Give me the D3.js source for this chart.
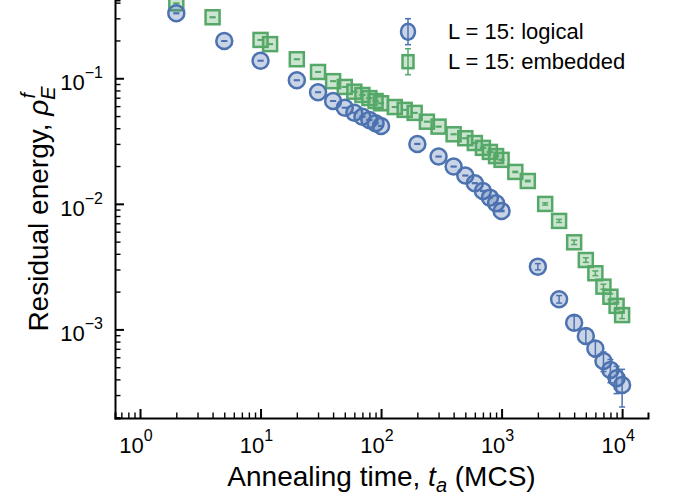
<!DOCTYPE html>
<html>
<head>
<meta charset="utf-8">
<script src="https://cdn.jsdelivr.net/npm/d3@7"></script>
<style>
  body { margin: 0; background: #fff; }
  text { font-family: "Liberation Sans", Arial, sans-serif; }
</style>
</head>
<body>
<div class="chart"></div>
<script>
// size setup
var width = 673;
var height = 500;

var blue = '#4c72b0';
var green = '#55a868';

// data
var tLogical = [2, 5, 10, 20, 30, 40, 50, 60, 70, 80, 90, 100,
                200, 300, 400, 500, 600, 700, 800, 900, 1000,
                2000, 3000, 4000, 5000, 6000, 7000, 8000, 9000, 10000];
var rhoLogical = [0.329, 0.198, 0.138, 0.0964, 0.0774, 0.0659, 0.0583, 0.0532, 0.0494, 0.0466, 0.0438, 0.0417,
                  0.0300, 0.0238, 0.0198, 0.0168, 0.0146, 0.01267, 0.0112, 0.0101, 0.00877,
                  0.00316, 0.00174, 0.00113, 0.000887, 0.000703, 0.000561, 0.000476, 0.000408, 0.000361];
var errLogical = [0.002, 0.001, 0.0008, 0.0005, 0.0004, 0.0003, 0.0003, 0.0003, 0.0003, 0.0003, 0.0003, 0.0002,
                  0.0002, 0.00015, 0.00012, 0.0001, 0.0001, 0.0001, 0.0001, 0.0001, 0.0001,
                  0.00018, 0.00012, 0.00015, 0.00012, 0.0001, 0.0001, 0.0001, 0.0001, 0.00012];

var tEmbedded = [2, 4, 10, 12, 20, 30, 40, 50, 60, 70, 80, 90, 100,
                 130, 157, 190, 240, 300, 400, 500, 600, 700, 800, 900, 1000,
                 1300, 1650, 2300, 3000, 4000, 5000, 6000, 7000, 8000, 9000, 10000];
var rhoEmbedded = [0.395, 0.306, 0.202, 0.187, 0.1417, 0.1122, 0.0948, 0.0853, 0.0782, 0.0736, 0.0695, 0.0659, 0.0632,
                   0.059, 0.056, 0.053, 0.0451, 0.0412, 0.0358, 0.0333, 0.0305, 0.0279, 0.0259, 0.0240, 0.0224,
                   0.01795, 0.0152, 0.00998, 0.00731, 0.00494, 0.00357, 0.0028, 0.00219, 0.00182, 0.00154, 0.0013];
var errEmbedded = [0.002, 0.002, 0.001, 0.001, 0.0008, 0.0006, 0.0005, 0.0004, 0.0004, 0.0004, 0.0003, 0.0003, 0.0003,
                   0.0003, 0.0003, 0.0003, 0.0003, 0.0003, 0.0002, 0.0002, 0.0002, 0.0002, 0.0002, 0.0002, 0.0002,
                   0.0002, 0.0002, 0.0002, 0.0002, 0.0002, 0.00015, 0.00012, 0.0001, 0.0001, 0.0001, 0.00008];

var xDecades = [1, 10, 100, 1000, 10000];
var xExponents = ["0", "1", "2", "3", "4"];
var yDecades = [0.1, 0.01, 0.001];
var yExponents = ["\u22121", "\u22122", "\u22123"];

var legendLabels = ["L = 15: logical", "L = 15: embedded"];

// plot box (names avoid window.top)
var plotLeft = 115, plotRight = 648, plotTop = 0, plotBottom = 418;

var xScale = d3.scaleLog()
               .domain([0.62, 16400])
               .range([plotLeft, plotRight]);
var yScale = d3.scaleLog()
               .domain([1.97e-4, 0.42])
               .range([plotBottom, plotTop]);

var svg = d3.select(".chart")
            .append("svg")
            .attr("width", width)
            .attr("height", height);

svg.append("defs").append("clipPath")
   .attr("id", "plot-clip")
   .append("rect")
   .attr("x", plotLeft).attr("y", plotTop)
   .attr("width", plotRight - plotLeft).attr("height", plotBottom - plotTop);

// axes with inward ticks
var xAxis = d3.axisTop(xScale)
              .tickSize(5.5)
              .tickFormat("");
var yAxis = d3.axisRight(yScale)
              .tickSize(5.5)
              .tickFormat("");

var gx = svg.append("g")
            .attr("id", "x-axis")
            .attr("transform", "translate(0," + plotBottom + ")")
            .call(xAxis);
var gy = svg.append("g")
            .attr("id", "y-axis")
            .attr("transform", "translate(" + plotLeft + ",0)")
            .call(yAxis);

[gx, gy].forEach(function(g) {
  g.select(".domain").attr("stroke", "#000").attr("stroke-width", 2);
  g.selectAll(".tick line").attr("stroke", "#000").attr("stroke-width", 1.4);
});

// longer major ticks
gx.selectAll(".tick line")
  .filter(d => xDecades.indexOf(d) >= 0)
  .attr("y2", -9).attr("stroke-width", 2);
gy.selectAll(".tick line")
  .filter(d => yDecades.some(v => Math.abs(v - d) / v < 1e-6))
  .attr("x2", 9).attr("stroke-width", 2);

// tick labels as 10^n
xDecades.forEach(function(v, i) {
  var t = svg.append("text")
             .attr("x", xScale(v) - 4)
             .attr("y", plotBottom + 35)
             .attr("text-anchor", "middle")
             .style("font-size", "22px");
  t.append("tspan").text("10");
  t.append("tspan").attr("dy", -12).style("font-size", "16px").text(xExponents[i]);
});
yDecades.forEach(function(v, i) {
  var t = svg.append("text")
             .attr("x", plotLeft - 12)
             .attr("y", yScale(v) + 12)
             .attr("text-anchor", "end")
             .style("font-size", "22px");
  t.append("tspan").text("10");
  t.append("tspan").attr("dy", -12).style("font-size", "16px").text(yExponents[i]);
});

// axis labels
var xl = svg.append("text")
            .attr("x", (plotLeft + plotRight) / 2)
            .attr("y", 486)
            .attr("text-anchor", "middle")
            .style("font-size", "28px");
xl.append("tspan").text("Annealing time, ");
xl.append("tspan").style("font-style", "italic").text("t");
xl.append("tspan").attr("dy", 6).style("font-size", "20px").style("font-style", "italic").text("a");
xl.append("tspan").attr("dy", -6).text(" (MCS)");

var yl = svg.append("text")
            .attr("transform", "translate(48," + ((plotTop + plotBottom) / 2) + ") rotate(-90)")
            .attr("text-anchor", "middle")
            .style("font-size", "28px");
yl.append("tspan").text("Residual energy, ");
yl.append("tspan").style("font-style", "italic").text("\u03c1");
yl.append("tspan").attr("dy", 7).style("font-size", "20px").style("font-style", "italic").text("E");
yl.append("tspan").attr("dy", -20).attr("dx", -12).style("font-size", "20px").style("font-style", "italic").text("f");

// error bars and markers
function drawSeries(ts, vals, errs, color, shape) {
  var g = svg.append("g").attr("clip-path", "url(#plot-clip)");
  var pts = ts.map((t, i) => ({t: t, v: vals[i], e: errs[i]}));

  var marks = g.selectAll(".mark")
               .data(pts)
               .enter();
  if (shape === "circle") {
    marks.append("circle")
         .attr("cx", d => xScale(d.t))
         .attr("cy", d => yScale(d.v))
         .attr("r", 8)
         .attr("fill", color)
         .attr("fill-opacity", 0.3)
         .attr("stroke", color)
         .attr("stroke-width", 2.5);
  } else {
    marks.append("rect")
         .attr("x", d => xScale(d.t) - 7)
         .attr("y", d => yScale(d.v) - 7)
         .attr("width", 14)
         .attr("height", 14)
         .attr("fill", color)
         .attr("fill-opacity", 0.3)
         .attr("stroke", color)
         .attr("stroke-width", 2.5);
  }

  var bars = g.selectAll(".bar")
              .data(pts)
              .enter()
              .append("g")
              .attr("stroke", color)
              .attr("stroke-width", 1.5);
  bars.append("line")
      .attr("x1", d => xScale(d.t)).attr("x2", d => xScale(d.t))
      .attr("y1", d => yScale(d.v + d.e)).attr("y2", d => yScale(d.v - d.e));
  bars.append("line")
      .attr("x1", d => xScale(d.t) - 3).attr("x2", d => xScale(d.t) + 3)
      .attr("y1", d => yScale(d.v + d.e)).attr("y2", d => yScale(d.v + d.e));
  bars.append("line")
      .attr("x1", d => xScale(d.t) - 3).attr("x2", d => xScale(d.t) + 3)
      .attr("y1", d => yScale(d.v - d.e)).attr("y2", d => yScale(d.v - d.e));
}

drawSeries(tEmbedded, rhoEmbedded, errEmbedded, green, "square");
drawSeries(tLogical, rhoLogical, errLogical, blue, "circle");

// legend
var legendY = [31.7, 61.7];
var legendColors = [blue, green];
legendLabels.forEach(function(label, i) {
  var cx = 408, cy = legendY[i];
  var g = svg.append("g");
  if (i === 0) {
    g.append("ellipse").attr("cx", cx).attr("cy", cy).attr("rx", 7).attr("ry", 8)
     .attr("fill", blue).attr("fill-opacity", 0.3).attr("stroke", blue).attr("stroke-width", 2.5);
  } else {
    g.append("rect").attr("x", cx - 5.5).attr("y", cy - 6.5).attr("width", 11).attr("height", 13)
     .attr("fill", green).attr("fill-opacity", 0.3).attr("stroke", green).attr("stroke-width", 2.5);
  }
  g.append("line").attr("x1", cx).attr("x2", cx).attr("y1", cy - 13).attr("y2", cy + 13)
   .attr("stroke", legendColors[i]).attr("stroke-width", 1.5);
  g.append("line").attr("x1", cx - 3).attr("x2", cx + 3).attr("y1", cy - 13).attr("y2", cy - 13)
   .attr("stroke", legendColors[i]).attr("stroke-width", 1.5);
  g.append("line").attr("x1", cx - 3).attr("x2", cx + 3).attr("y1", cy + 13).attr("y2", cy + 13)
   .attr("stroke", legendColors[i]).attr("stroke-width", 1.5);
  svg.append("text")
     .attr("x", 448)
     .attr("y", cy + 7)
     .style("font-size", "22px")
     .text(label);
});
</script>
</body>
</html>
